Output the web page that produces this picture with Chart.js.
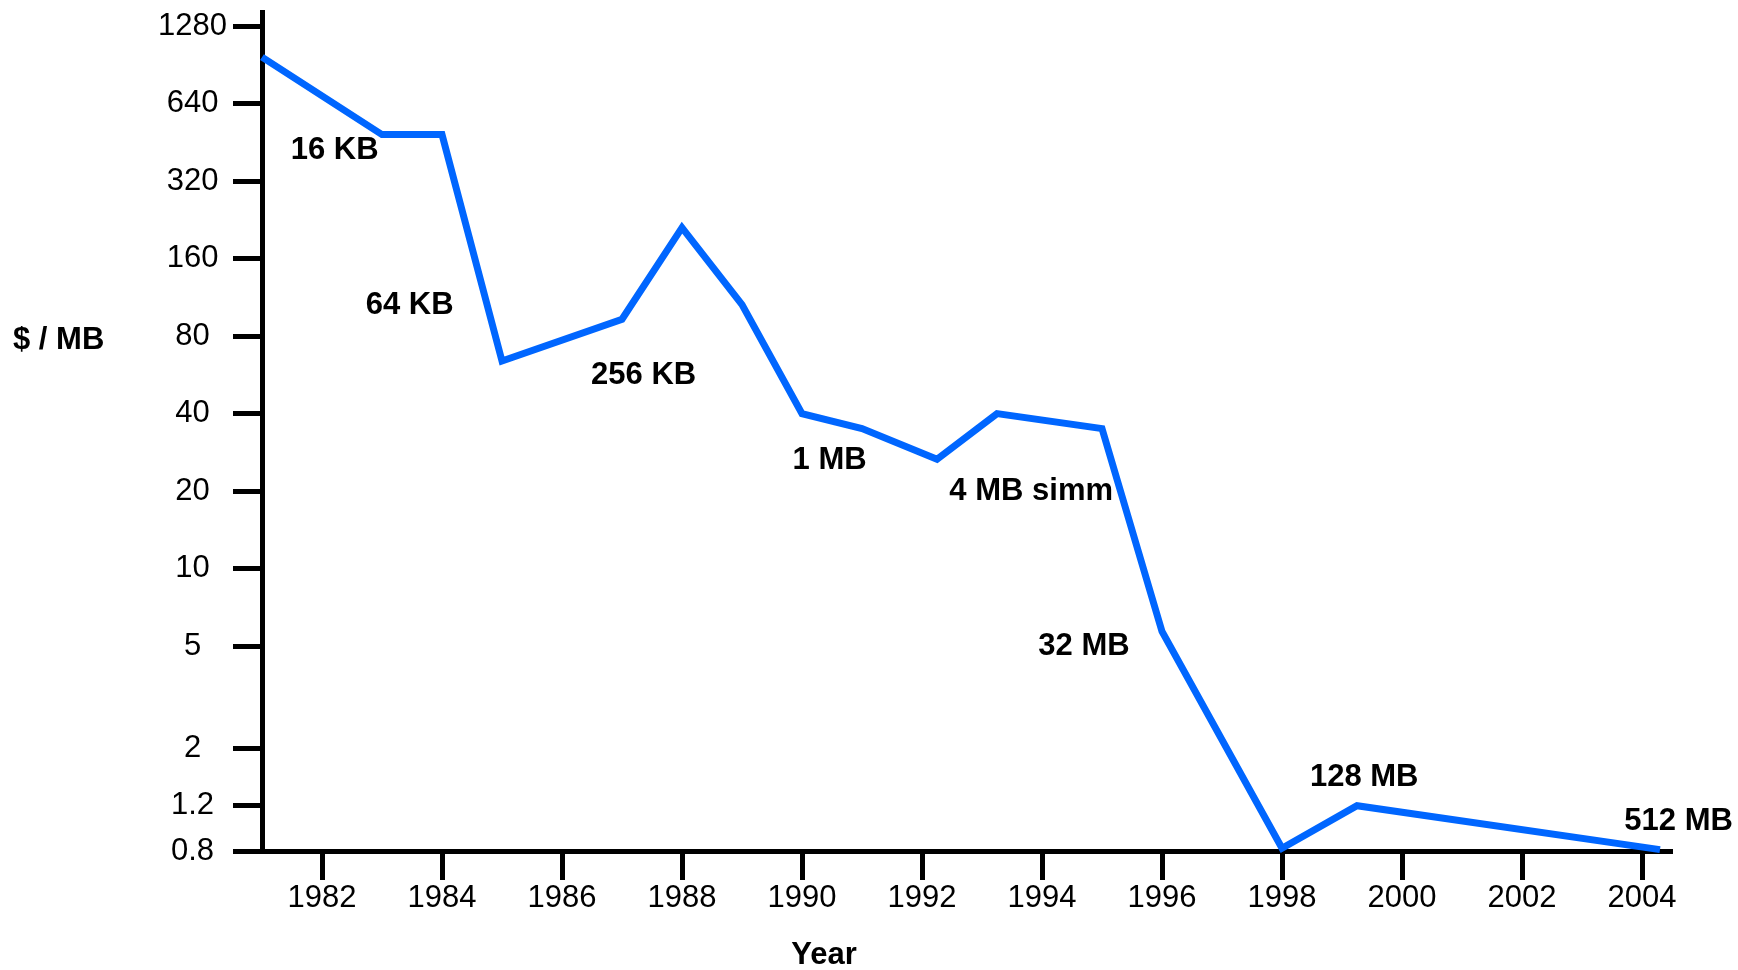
<!DOCTYPE html>
<html>
<head>
    <meta charset="utf-8">
    <title>Memory price per MB</title>
    <script src="https://cdn.jsdelivr.net/npm/chart.js@4.4.1/dist/chart.umd.min.js"></script>
    <style>
        body { margin: 0; background: #fff; }
        #wrap { width: 1738px; height: 970px; position: relative; }
    </style>
</head>
<body>

<div id="wrap"><canvas id="myChart"></canvas></div>

<script>
    // price of DRAM, $ per MB, by year
    let years  = [1981, 1983, 1984, 1985, 1987, 1988, 1989, 1990, 1991, 1992.25, 1993.25, 1995, 1996, 1998, 1999.25, 2004.3];
    let prices = [970, 485, 485, 64, 93, 211, 106, 40, 35, 26.6, 40, 35, 5.7, 0.82, 1.2, 0.81];

    let yTicks = [0.8, 1.2, 2, 5, 10, 20, 40, 80, 160, 320, 640, 1280];
    let xTicks = [1982, 1984, 1986, 1988, 1990, 1992, 1994, 1996, 1998, 2000, 2002, 2004];

    // chip size notes, placed in data units (year, $/MB)
    let noteText  = ["16 KB", "64 KB", "256 KB", "1 MB", "4 MB simm", "32 MB", "128 MB", "512 MB"];
    let noteYear  = [1982.21, 1983.46, 1987.36, 1990.46, 1993.82, 1994.7, 1999.37, 2004.61];
    let noteValue = [422, 105.5, 56.5, 26.4, 20, 5, 1.54, 1.04];

    const FONT = '"Liberation Sans", Arial, sans-serif';

    const textPlugin = {
        id: 'texts',
        afterDraw(chart) {
            const ctx = chart.ctx;
            const x = chart.scales.x, y = chart.scales.y;
            ctx.save();
            ctx.fillStyle = '#000';
            ctx.font = 'bold 31px ' + FONT;
            ctx.textAlign = 'center';
            ctx.textBaseline = 'middle';
            for (let i = 0; i < noteText.length; i++) {
                ctx.fillText(noteText[i], x.getPixelForValue(noteYear[i]), y.getPixelForValue(noteValue[i]));
            }
            // axis titles
            ctx.fillText('Year', 824, 955);
            ctx.textAlign = 'left';
            ctx.fillText('$ / MB', 13, 340);
            ctx.restore();
        }
    };

    function noPad(scale) {
        scale.paddingTop = 0;
        scale.paddingBottom = 0;
        scale.paddingLeft = 0;
        scale.paddingRight = 0;
    }

    var ctx = document.getElementById('myChart').getContext('2d');
    var myChart = new Chart(ctx, {
        type: 'line',
        data: {
            datasets: [{
                data: years.map((yr, i) => ({x: yr, y: prices[i]})),
                borderColor: '#0066ff',
                borderWidth: 7,
                borderJoinStyle: 'miter',
                pointRadius: 0,
                tension: 0,
                fill: false,
                clip: false
            }]
        },
        options: {
            responsive: true,
            maintainAspectRatio: false,
            animation: false,
            layout: { padding: { top: 12, left: 0, right: 66, bottom: 0 } },
            plugins: {
                legend: { display: false },
                tooltip: { enabled: false }
            },
            scales: {
                x: {
                    type: 'linear',
                    min: 1981,
                    max: 2004.5,
                    z: 1,
                    border: { display: true, color: '#000', width: 5 },
                    grid: { drawOnChartArea: false, drawTicks: true, tickLength: 29, tickWidth: 5, tickColor: '#000' },
                    ticks: {
                        color: '#000',
                        font: { family: FONT, size: 31 },
                        padding: 0,
                        maxRotation: 0,
                        autoSkip: false,
                        callback: v => String(v)
                    },
                    afterBuildTicks: scale => { scale.ticks = xTicks.map(v => ({value: v})); },
                    afterFit: scale => { scale.height = 119; noPad(scale); }
                },
                y: {
                    type: 'logarithmic',
                    min: 0.8,
                    max: 1452,
                    z: 1,
                    border: { display: true, color: '#000', width: 5 },
                    grid: { drawOnChartArea: false, drawTicks: true, tickLength: 29, tickWidth: 5, tickColor: '#000' },
                    ticks: {
                        color: '#000',
                        font: { family: FONT, size: 31 },
                        padding: 6,
                        crossAlign: 'center',
                        autoSkip: false,
                        callback: v => String(v)
                    },
                    afterBuildTicks: scale => { scale.ticks = yTicks.map(v => ({value: v})); },
                    afterFit: scale => { scale.width = 262; noPad(scale); }
                }
            }
        },
        plugins: [textPlugin]
    });
</script>

</body>
</html>
